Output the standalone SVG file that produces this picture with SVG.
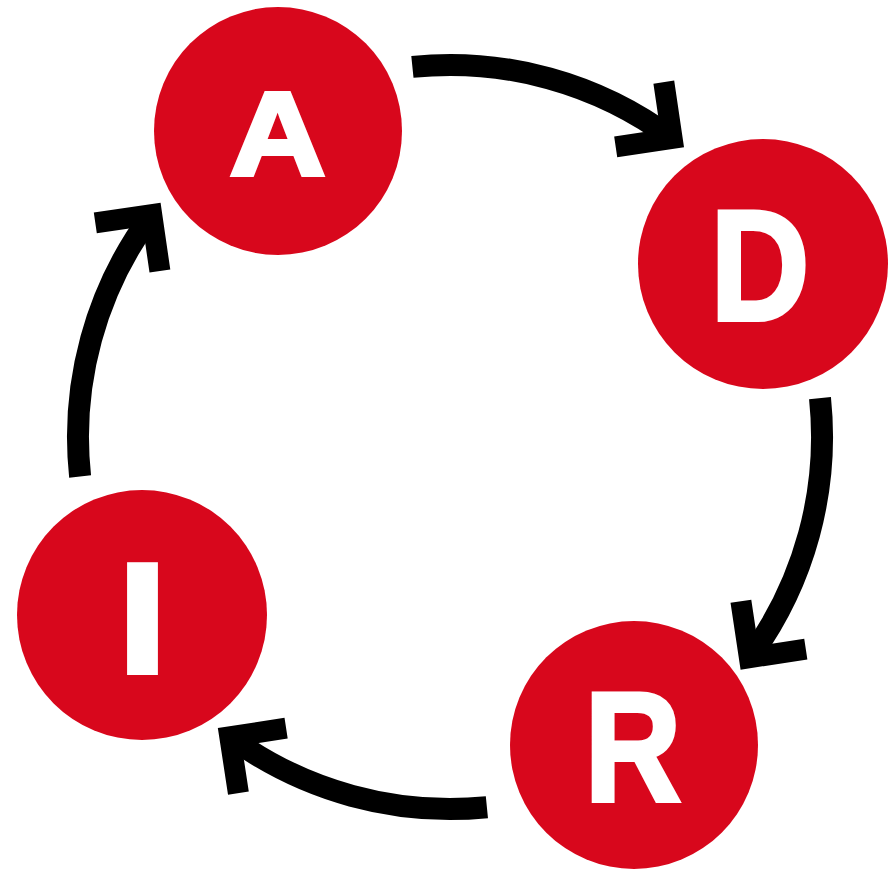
<svg xmlns="http://www.w3.org/2000/svg" width="893" height="871" viewBox="0 0 893 871">
<style>
.node{fill:#d8071c}
.lbl{fill:#ffffff;stroke:#ffffff;stroke-width:4;stroke-linejoin:miter;font-family:"Liberation Sans",Arial,sans-serif;font-weight:bold;text-anchor:middle}
.shaft{fill:none;stroke:#000;stroke-width:22;stroke-linecap:butt}
.head{fill:none;stroke:#000;stroke-width:21;stroke-linecap:butt;stroke-linejoin:miter;stroke-miterlimit:10}
</style>
<rect width="893" height="871" fill="#ffffff"/>
<g id="connectors">
<path class="shaft" d="M412.4,66.9 A372,372 0 0 1 672.1,138.5"/>
<polyline class="head" points="663.8,82.1 672.1,138.5 615.7,146.8"/>
<path class="shaft" d="M820,398.1 A372,372 0 0 1 749.4,657.7"/>
<polyline class="head" points="805.8,649.2 749.4,657.7 740.9,601.3"/>
<path class="shaft" d="M486.9,807.2 A372,372 0 0 1 229.8,736.8"/>
<polyline class="head" points="238.4,793.1 229.8,736.8 286.1,728.2"/>
<path class="shaft" d="M80.1,476.5 A372,372 0 0 1 151.7,214.7"/>
<polyline class="head" points="95.3,222.9 151.7,214.7 159.9,271.1"/>
</g>
<g id="node-A">
<circle class="node" cx="278" cy="131" r="124"/>
<text class="lbl" font-size="119" transform="translate(277.5,175) scale(1.12,1)">A</text>
</g>
<g id="node-D">
<circle class="node" cx="763" cy="264" r="125"/>
<text class="lbl" font-size="158" transform="translate(760,320) scale(0.87,1)">D</text>
</g>
<g id="node-R">
<circle class="node" cx="634" cy="745" r="124"/>
<text class="lbl" font-size="156" transform="translate(633,801) scale(0.86,1)">R</text>
</g>
<g id="node-I">
<circle class="node" cx="142" cy="615" r="125"/>
<text class="lbl" font-size="158" transform="translate(142.5,673) scale(1.15,1)">I</text>
</g>
</svg>
